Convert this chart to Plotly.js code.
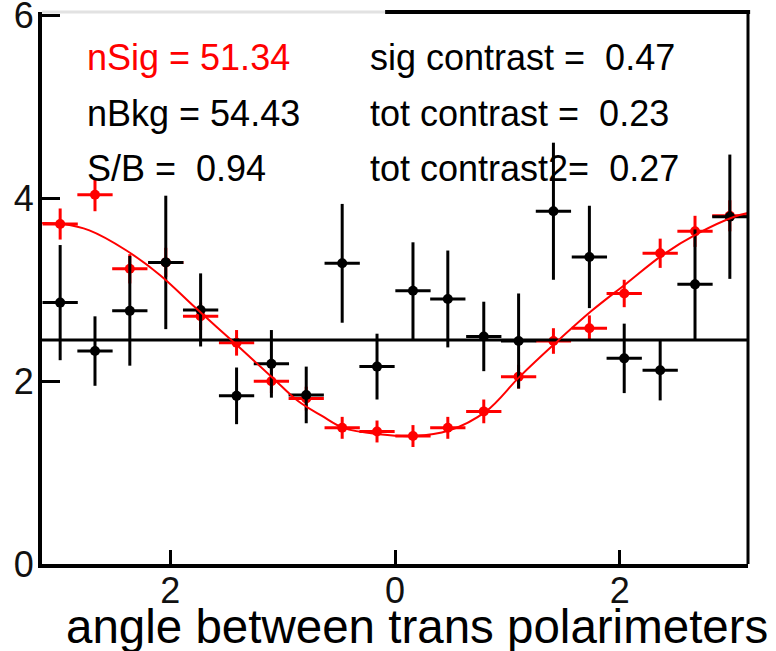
<!DOCTYPE html>
<html>
<head>
<meta charset="utf-8">
<script src="https://cdn.plot.ly/plotly-3.0.1.min.js"></script>
<style>
  html, body { margin: 0; padding: 0; background: #ffffff; }
  #chart { width: 776px; height: 651px; }
</style>
</head>
<body>
<div id="chart"></div>
<script>
// Bin centres of the angle histogram (20 bins over -pi .. pi)
const binCenters = [-2.98, -2.67, -2.36, -2.04, -1.73, -1.41, -1.10, -0.79, -0.47, -0.16,
                     0.16,  0.47,  0.79,  1.10,  1.41,  1.73,  2.04,  2.36,  2.67,  2.98];
const binHalfWidth = [0.157, 0.157, 0.157, 0.157, 0.157, 0.157, 0.157, 0.157, 0.157, 0.157,
                      0.157, 0.157, 0.157, 0.157, 0.157, 0.157, 0.157, 0.157, 0.157, 0.157];

// Black data points (with errors)
const dataValues = [2.86, 2.33, 2.77, 3.30, 2.78, 1.84, 2.19, 1.85, 3.29, 2.16,
                    2.99, 2.90, 2.49, 2.44, 3.86, 3.36, 2.25, 2.12, 3.06, 3.80];
const dataErrors = [0.63, 0.38, 0.60, 0.73, 0.40, 0.31, 0.37, 0.31, 0.65, 0.36,
                    0.53, 0.53, 0.38, 0.52, 0.75, 0.56, 0.38, 0.33, 0.60, 0.68];

// Red points (signal + background model)
const sigValues = [3.72, 4.04, 3.23, 3.30, 2.71, 2.42, 2.00, 1.81, 1.49, 1.45,
                   1.40, 1.49, 1.67, 2.05, 2.44, 2.58, 2.96, 3.40, 3.64, 3.81];
const sigErrors = [0.17, 0.18, 0.16, 0.16, 0.15, 0.14, 0.13, 0.13, 0.12, 0.12,
                   0.12, 0.12, 0.13, 0.13, 0.14, 0.14, 0.15, 0.16, 0.17, 0.17];

// Fit curve
const fitX = [-3.14, -2.95, -2.72, -2.39, -2.09, -1.79, -1.43, -1.10, -0.86, -0.65, -0.46,
              -0.14, 0.17, 0.48, 0.81, 1.11, 1.43, 1.75, 2.06, 2.38, 2.70, 3.02, 3.14];
const fitY = [3.73, 3.72, 3.65, 3.43, 3.16, 2.82, 2.42, 2.05, 1.78, 1.62, 1.49,
              1.42, 1.40, 1.46, 1.67, 2.05, 2.42, 2.77, 3.07, 3.38, 3.62, 3.80, 3.84];

// Background level
const bkgLevel = 2.45;
const xMin = -3.1416, xMax = 3.1416;

// Tick labels as drawn
const xTickVals = [-2, 0, 2];
const xTickText = ['2', '0', '2'];
const yTickVals = [0, 2, 4, 6];
const yTickText = ['0', '2', '4', '6'];

const statsLeft = [
  {text: 'nSig = 51.34', color: '#ff0000'},
  {text: 'nBkg = 54.43', color: '#000000'},
  {text: 'S/B =\u00a0 0.94', color: '#000000'}
];
const statsRight = [
  {text: 'sig contrast =\u00a0 0.47', color: '#000000'},
  {text: 'tot contrast =\u00a0 0.23', color: '#000000'},
  {text: 'tot contrast2=\u00a0 0.27', color: '#000000'}
];

const FONT = 'Liberation Sans, Arial, Helvetica, sans-serif';

const traces = [
  {
    type: 'scatter', mode: 'markers', name: 'model',
    x: binCenters, y: sigValues,
    marker: {color: '#ff0000', size: 10, symbol: 'circle'},
    error_y: {type: 'data', array: sigErrors, color: '#ff0000', thickness: 3, width: 0},
    error_x: {type: 'data', array: binHalfWidth, color: '#ff0000', thickness: 3, width: 0},
    hoverinfo: 'x+y'
  },
  {
    type: 'scatter', mode: 'markers', name: 'data',
    x: binCenters, y: dataValues,
    marker: {color: '#000000', size: 10, symbol: 'circle'},
    error_y: {type: 'data', array: dataErrors, color: '#000000', thickness: 3, width: 0},
    error_x: {type: 'data', array: binHalfWidth, color: '#000000', thickness: 3, width: 0},
    hoverinfo: 'x+y'
  },
  {
    type: 'scatter', mode: 'lines', name: 'background',
    x: [xMin, xMax], y: [bkgLevel, bkgLevel],
    line: {color: '#000000', width: 3}
  },
  {
    type: 'scatter', mode: 'lines', name: 'fit',
    x: fitX, y: fitY,
    line: {color: '#ff0000', width: 2, shape: 'spline', smoothing: 1}
  }
];

const annotations = [];
const rowY = [0.917, 0.817, 0.717];
statsLeft.forEach((s, i) => annotations.push({
  xref: 'paper', yref: 'paper', x: 0.061, y: rowY[i], xanchor: 'left', yanchor: 'middle',
  text: s.text, showarrow: false, font: {family: FONT, size: 36, color: s.color}
}));
statsRight.forEach((s, i) => annotations.push({
  xref: 'paper', yref: 'paper', x: 0.462, y: rowY[i], xanchor: 'left', yanchor: 'middle',
  text: s.text, showarrow: false, font: {family: FONT, size: 36, color: s.color}
}));
annotations.push({
  xref: 'paper', yref: 'paper', x: 1.031, y: -0.114, xanchor: 'right', yanchor: 'middle',
  text: 'angle between trans polarimeters', showarrow: false,
  font: {family: FONT, size: 47.5, color: '#000000'}
});

const layout = {
  width: 776, height: 651,
  margin: {l: 42, r: 28, t: 12, b: 87, pad: 0},
  paper_bgcolor: '#ffffff', plot_bgcolor: '#ffffff',
  showlegend: false,
  font: {family: FONT, color: '#000000'},
  xaxis: {
    range: [xMin, xMax], showgrid: false, zeroline: false,
    showline: true, linecolor: '#000000', linewidth: 4,
    ticks: 'inside', ticklen: 14, tickwidth: 3, tickcolor: '#000000',
    tickmode: 'array', tickvals: xTickVals, ticktext: xTickText,
    tickfont: {family: FONT, size: 36, color: '#111111'},
    ticklabeloverflow: 'allow', ticklabelstandoff: -8,
    title: {text: ''}
  },
  yaxis: {
    range: [0, 6.04], showgrid: false, zeroline: false,
    showline: true, linecolor: '#000000', linewidth: 4,
    ticks: 'inside', ticklen: 18, tickwidth: 3, tickcolor: '#000000',
    tickmode: 'array', tickvals: yTickVals, ticktext: yTickText,
    tickfont: {family: FONT, size: 36, color: '#111111'},
    ticklabeloverflow: 'allow', ticklabelstandoff: -3,
    title: {text: ''}
  },
  shapes: [
    {type: 'line', xref: 'paper', yref: 'paper', x0: 1, x1: 1, y0: 0, y1: 1,
     line: {color: '#000000', width: 3}},
    {type: 'line', xref: 'paper', yref: 'paper', x0: 0, x1: 0.486, y0: 1, y1: 1,
     line: {color: '#e2e2e2', width: 3}},
    {type: 'line', xref: 'paper', yref: 'paper', x0: 0.486, x1: 1.003, y0: 1, y1: 1,
     line: {color: '#000000', width: 4}}
  ],
  annotations: annotations
};

Plotly.newPlot('chart', traces, layout, {displayModeBar: false, staticPlot: true});
</script>
</body>
</html>
